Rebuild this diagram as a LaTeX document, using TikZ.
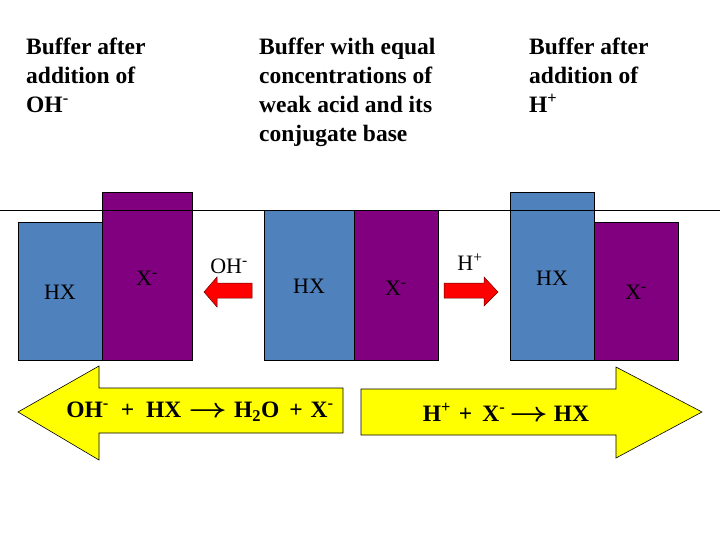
\documentclass[tikz,border=0pt]{standalone}
\usepackage{amsmath}
\usepackage{fontspec}
\setmainfont{Liberation Serif}
\begin{document}
\begin{tikzpicture}[x=1pt,y=-1pt]
\definecolor{bblue}{RGB}{79,129,189}
\definecolor{bpurp}{RGB}{128,0,128}
\definecolor{bred}{RGB}{255,0,0}
\definecolor{byel}{RGB}{255,255,0}
\newcommand{\eqarr}{\scalebox{1.35}[1.1]{$\boldsymbol{\rightarrow}$}}
\tikzset{
  bar/.style={draw=black, line width=0.8pt},
  title/.style={anchor=base west, inner sep=0pt, font=\fontsize{23.5}{29}\selectfont\bfseries, align=left},
  lbl/.style={inner sep=0pt, font=\fontsize{22}{26}\selectfont},
  eqn/.style={inner sep=0pt, font=\fontsize{23.5}{26}\selectfont\bfseries},
  redarrow/.style={fill=bred, draw=black!60!red, line width=0.5pt},
  yelarrow/.style={fill=byel, draw=black, line width=0.6pt}
}
\useasboundingbox (0,0) rectangle (720,540);
% titles (base anchor = baseline of last line)
\node[title] (t1) at (26,113) {Buffer after\\addition of\\OH\textsuperscript{-}};
\node[title] (t2) at (259,142) {Buffer with equal\\concentrations of\\weak acid and its\\conjugate base};
\node[title] (t3) at (529,113) {Buffer after\\addition of\\H\textsuperscript{+}};
% bars
\fill[bblue] (18,222) rectangle (102,360); \draw[bar] (18,222) rectangle (102,360);
\fill[bpurp] (102,192) rectangle (192,360); \draw[bar] (102,192) rectangle (192,360);
\fill[bblue] (264,210) rectangle (354,360); \draw[bar] (264,210) rectangle (354,360);
\fill[bpurp] (354,210) rectangle (438,360); \draw[bar] (354,210) rectangle (438,360);
\fill[bblue] (510,192) rectangle (594,360); \draw[bar] (510,192) rectangle (594,360);
\fill[bpurp] (594,222) rectangle (678,360); \draw[bar] (594,222) rectangle (678,360);
% horizontal line
\coordinate (hl) at (0,210);
\coordinate (hr) at (720,210);
\draw[line width=0.8pt] (hl) -- (hr);
% bar labels
\node[lbl] (l1) at (60,292) {HX};
\node[lbl] (l2) at (147,278) {X\textsuperscript{-}};
\node[lbl] (l3) at (309,286) {HX};
\node[lbl] (l4) at (396,288) {X\textsuperscript{-}};
\node[lbl] (l5) at (552,278) {HX};
\node[lbl] (l6) at (636,292) {X\textsuperscript{-}};
% red arrows
\node[lbl] (oh) at (229,266) {OH\textsuperscript{-}};
\draw[redarrow] (252,283) -- (217,283) -- (217,277) -- (204,292) -- (217,307) -- (217,298) -- (252,298) -- cycle;
\node[lbl] (hp) at (470,262) {H\textsuperscript{+}};
\draw[redarrow] (444,283) -- (484,283) -- (484,277) -- (498,292) -- (484,306) -- (484,298) -- (444,298) -- cycle;
% yellow arrows
\draw[yelarrow] (343,388) -- (99,388) -- (99,366) -- (18,412) -- (99,460) -- (99,433) -- (343,433) -- cycle;
\node[eqn] (e1) at (200,412) {OH\textsuperscript{-}\hspace{12pt}+\hspace{12pt}HX\hspace{7pt}\eqarr\hspace{7pt}H\textsubscript{2}O\hspace{10pt}+\hspace{8pt}X\textsuperscript{-}};
\draw[yelarrow] (361,389) -- (616,389) -- (616,367) -- (702,412) -- (616,458) -- (616,435) -- (361,435) -- cycle;
\node[eqn] (e2) at (506,412) {H\textsuperscript{+}\hspace{8pt}+\hspace{10pt}X\textsuperscript{-}\hspace{4pt}\eqarr\hspace{6pt}HX};
\end{tikzpicture}
\end{document}
